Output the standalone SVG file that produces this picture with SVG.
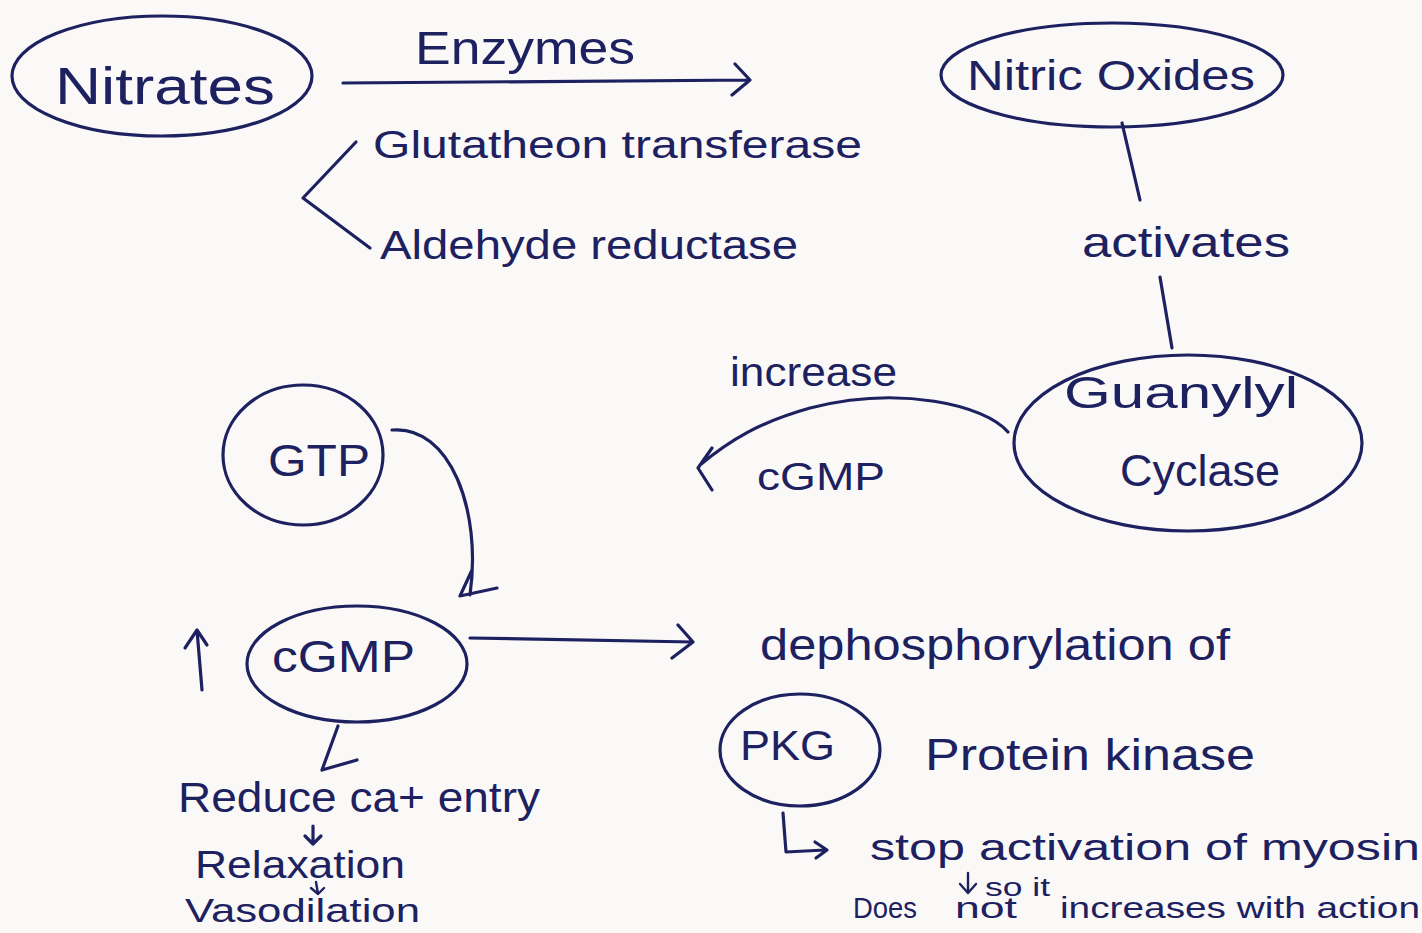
<svg xmlns="http://www.w3.org/2000/svg" width="1422" height="933" viewBox="0 0 1422 933">
<defs>
<style>
.ln{fill:none;stroke:#1d2160;stroke-width:3.2;stroke-linecap:round;stroke-linejoin:round}
.t{font-family:"Liberation Sans","DejaVu Sans",sans-serif;fill:#1d2160}
</style>
</defs>
<rect width="1422" height="933" fill="#fbf9f8"/>
<g id="nitrates">
<ellipse class="ln" cx="162" cy="76" rx="150" ry="60"/>
<text class="t" x="55" y="104" font-size="52" textLength="220" lengthAdjust="spacingAndGlyphs">Nitrates</text>
</g>
<g id="enzymes">
<text class="t" x="415" y="64" font-size="46" textLength="220" lengthAdjust="spacingAndGlyphs">Enzymes</text>
<text class="t" x="373" y="158" font-size="38" textLength="489" lengthAdjust="spacingAndGlyphs">Glutatheon transferase</text>
<text class="t" x="380" y="259" font-size="40" textLength="418" lengthAdjust="spacingAndGlyphs">Aldehyde reductase</text>
</g>
<g id="nitric-oxides">
<ellipse class="ln" cx="1112" cy="75" rx="171" ry="52"/>
<text class="t" x="967" y="90" font-size="42" textLength="288" lengthAdjust="spacingAndGlyphs">Nitric Oxides</text>
</g>
<g id="activates">
<text class="t" x="1082" y="257" font-size="42" textLength="208" lengthAdjust="spacingAndGlyphs">activates</text>
</g>
<g id="guanylyl-cyclase">
<ellipse class="ln" cx="1188" cy="443" rx="174" ry="88"/>
<text class="t" x="1064" y="408" font-size="44" textLength="234" lengthAdjust="spacingAndGlyphs">Guanylyl</text>
<text class="t" x="1120" y="486" font-size="44" textLength="160" lengthAdjust="spacingAndGlyphs">Cyclase</text>
</g>
<g id="increase-label">
<text class="t" x="730" y="386" font-size="40" textLength="167" lengthAdjust="spacingAndGlyphs">increase</text>
<text class="t" x="757" y="490" font-size="38" textLength="128" lengthAdjust="spacingAndGlyphs">cGMP</text>
</g>
<g id="gtp">
<ellipse class="ln" cx="303" cy="455" rx="80" ry="70"/>
<text class="t" x="268" y="476" font-size="44" textLength="102" lengthAdjust="spacingAndGlyphs">GTP</text>
</g>
<g id="cgmp">
<ellipse class="ln" cx="357" cy="664" rx="110" ry="58"/>
<text class="t" x="272" y="672" font-size="44" textLength="143" lengthAdjust="spacingAndGlyphs">cGMP</text>
</g>
<g id="dephosphorylation">
<text class="t" x="760" y="660" font-size="44" textLength="470" lengthAdjust="spacingAndGlyphs">dephosphorylation of</text>
</g>
<g id="pkg">
<ellipse class="ln" cx="800" cy="750" rx="80" ry="56"/>
<text class="t" x="740" y="760" font-size="42" textLength="95" lengthAdjust="spacingAndGlyphs">PKG</text>
<text class="t" x="925" y="770" font-size="44" textLength="330" lengthAdjust="spacingAndGlyphs">Protein kinase</text>
</g>
<g id="stop-activation">
<text class="t" x="870" y="860" font-size="36" textLength="550" lengthAdjust="spacingAndGlyphs">stop activation of myosin</text>
<text class="t" x="985" y="896" font-size="26" textLength="65" lengthAdjust="spacingAndGlyphs">so it</text>
<text class="t" x="853" y="918" font-size="30" textLength="64" lengthAdjust="spacingAndGlyphs">Does</text>
<text class="t" x="955" y="918" font-size="30" textLength="62" lengthAdjust="spacingAndGlyphs">not</text>
<text class="t" x="1060" y="918" font-size="30" textLength="360" lengthAdjust="spacingAndGlyphs">increases with action</text>
</g>
<g id="effects">
<text class="t" x="178" y="812" font-size="42" textLength="362" lengthAdjust="spacingAndGlyphs">Reduce ca+ entry</text>
<text class="t" x="195" y="878" font-size="38" textLength="210" lengthAdjust="spacingAndGlyphs">Relaxation</text>
<text class="t" x="185" y="922" font-size="34" textLength="235" lengthAdjust="spacingAndGlyphs">Vasodilation</text>
</g>
<g id="connectors">
<path class="ln" d="M343,83 L750,80 M735,64 L750,80 L732,95"/>
<path class="ln" d="M356,142 L303,198 L370,248"/>
<path class="ln" d="M1122,123 L1140,200"/>
<path class="ln" d="M1160,277 L1172,348"/>
<path class="ln" d="M1008,432 C985,405 900,385 810,408 C760,422 730,440 700,465 M712,448 L698,468 L712,490"/>
<path class="ln" d="M392,430 C450,425 482,510 470,595 M472,570 L460,596 L497,588"/>
<path class="ln" d="M202,690 L197,630 M185,648 L197,630 L207,645"/>
<path class="ln" d="M470,638 L693,642 M678,625 L693,642 L672,658"/>
<path class="ln" d="M338,726 L322,770 M322,770 L357,760"/>
<path class="ln" d="M783,813 L786,852 L825,850 M815,842 L827,850 L816,858"/>
<path class="ln" d="M313,826 L313,844 M305,836 L313,844 L321,836"/>
<path class="ln" d="M316,882 L318,894 M311,888 L318,894 L324,888" style="stroke-width:2.4"/>
<path class="ln" d="M968,873 L968,893 M960,884 L968,893 L976,884" style="stroke-width:2.4"/>
</g>
</svg>
